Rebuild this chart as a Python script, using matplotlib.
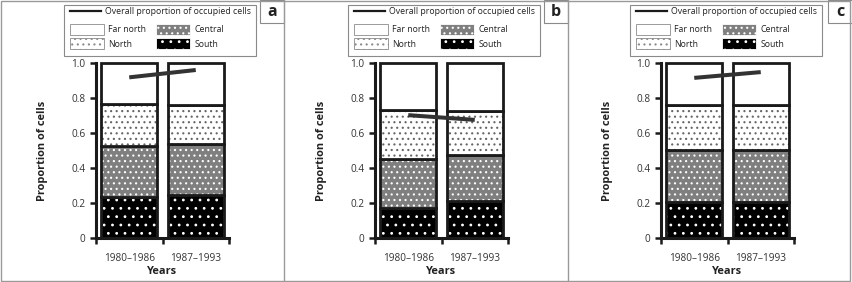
import matplotlib
matplotlib.use("Agg")
import matplotlib.pyplot as plt
import numpy as np
from matplotlib.lines import Line2D
from matplotlib.patches import Patch, Rectangle

plt.rcParams["font.family"] = "Open Sans"
plt.rcParams["hatch.linewidth"] = 0.8

W, H = 852, 282

PANELS = ["a", "b", "c"]
PERIODS = ["1980–1986", "1987–1993"]

# segment heights per panel (rows a, b, c), one value per period
SOUTH = [[0.235, 0.245], [0.169, 0.213], [0.208, 0.208]]
CENTRAL = [[0.291, 0.290], [0.283, 0.264], [0.294, 0.294]]
NORTH = [[0.239, 0.224], [0.279, 0.246], [0.258, 0.258]]
FAR_NORTH = [[0.235, 0.241], [0.269, 0.277], [0.240, 0.240]]
OVERALL = [[0.918, 0.960], [0.702, 0.675], [0.915, 0.948]]

# name -> (face, hatch, hatch colour)
STYLES = {
    "South": ("#000000", "..", "white"),
    "Central": ("#7f7f7f", "...", "white"),
    "North": ("white", "...", "#666666"),
    "Far north": ("white", "", "white"),
}
DARK = "#1a1a1a"
AX_LEFT = [96, 375, 661]


def legend_at(fig, handles, labels, x_px, y_px, **kw):
    leg = fig.legend(
        handles, labels, loc="center left",
        bbox_to_anchor=(x_px / W, 1 - y_px / H), bbox_transform=fig.transFigure,
        frameon=False, borderpad=0, borderaxespad=0, handletextpad=0.55,
        prop={"size": 6.3}, labelcolor="#222222", **kw,
    )
    return leg


def draw_panel(fig, i):
    ax = fig.add_axes([AX_LEFT[i] / W, 44 / H, 133 / W, 175 / H])
    x = np.arange(len(PERIODS)) + 0.5
    bottom = np.zeros(len(PERIODS))
    series = [("South", SOUTH[i]), ("Central", CENTRAL[i]), ("North", NORTH[i]), ("Far north", FAR_NORTH[i])]
    for name, vals in series:
        face, hatch, hcol = STYLES[name]
        vals = np.array(vals)
        ax.bar(x, vals, 0.84, bottom=bottom, color=face, hatch=hatch, edgecolor=hcol, linewidth=0)
        ax.bar(x, vals, 0.84, bottom=bottom, fill=False, edgecolor=DARK, linewidth=2.0, clip_on=False)
        bottom += vals
    ax.plot(x, OVERALL[i], color="#333333", lw=2.9, solid_capstyle="butt", zorder=5)

    ax.set_xlim(0, 2)
    ax.set_ylim(0, 1)
    for side in ("top", "right"):
        ax.spines[side].set_visible(False)
    for side in ("left", "bottom"):
        ax.spines[side].set_linewidth(2.2)
        ax.spines[side].set_color(DARK)
    ax.set_yticks([0, 0.2, 0.4, 0.6, 0.8, 1.0])
    ax.set_yticklabels(["0", "0.2", "0.4", "0.6", "0.8", "1.0"])
    ax.set_xticks([0, 1, 2])
    ax.set_xticklabels([])
    ax.set_xticks(x, minor=True)
    ax.set_xticklabels(PERIODS, minor=True)
    ax.tick_params(axis="both", which="major", direction="out", length=4.5, width=1.8,
                   color=DARK, labelsize=7.2, labelcolor="#333333", pad=3)
    ax.tick_params(axis="x", which="minor", length=0, pad=11, labelsize=7.2, labelcolor="#333333")
    ax.set_ylabel("Proportion of cells", fontsize=7.9, fontweight="bold", color="#222222")
    ax.set_xlabel("Years", fontsize=7.9, fontweight="bold", color="#222222")
    ax.yaxis.set_label_coords(-0.36, 0.5)
    ax.xaxis.set_label_coords(0.5, -0.16)

    # legend block in the top of the panel
    x0 = i * 284
    lx = x0 + [64, 64, 62][i]
    fig.add_artist(Rectangle((lx / W, 1 - 56 / H), 192 / W, 51 / H, transform=fig.transFigure,
                             fill=False, edgecolor="#8a8a8a", linewidth=0.8))
    legend_at(fig, [Line2D([], [], color=DARK, lw=1.6)], ["Overall proportion of occupied cells"],
              lx + 6, 12, handlelength=3.5)

    def region_handle(name):
        face, hatch, hcol = STYLES[name]
        edge = "#8a8a8a" if name in ("Far north", "North") else hcol
        return Patch(facecolor=face, hatch=hatch, edgecolor=edge, linewidth=0.6)

    legend_at(fig, [region_handle("Far north"), region_handle("North")], ["Far north", "North"],
              lx + 6, 36.5, handlelength=3.84, handleheight=1.63, labelspacing=0.35)
    legend_at(fig, [region_handle("Central"), region_handle("South")], ["Central", "South"],
              lx + 92, 36.5, handlelength=3.84, handleheight=1.63, labelspacing=0.35)

    # panel letter box
    bx = x0 + 284 - 24
    fig.add_artist(Rectangle((bx / W, 1 - 23 / H), 24 / W, 23 / H, transform=fig.transFigure,
                             fill=False, edgecolor="#8a8a8a", linewidth=0.8))
    fig.text((bx + 12) / W, 1 - 11.5 / H, PANELS[i], ha="center", va="center",
             fontsize=11.5, fontweight="bold", color="#222222")


fig = plt.figure(figsize=(W / 100, H / 100), dpi=100)
for i in range(len(PANELS)):
    draw_panel(fig, i)

# outer frame and separators
fig.add_artist(Rectangle((1 / W, 1.5 / H), 849 / W, 280 / H, transform=fig.transFigure,
                         fill=False, edgecolor="#999999", linewidth=1.0))
for sx in (284, 568):
    fig.add_artist(Line2D([sx / W, sx / W], [1.5 / H, 1], transform=fig.transFigure,
                          color="#999999", linewidth=1.0))

fig.savefig("out.png", dpi=100)
